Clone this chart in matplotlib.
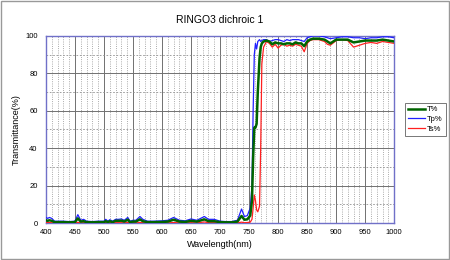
import numpy as np
import matplotlib
matplotlib.use('Agg')
import matplotlib.pyplot as plt
from matplotlib.patches import Rectangle

plt.rcParams['font.family'] = ['Liberation Sans', 'DejaVu Sans']

wl = [400,403,406,410,415,420,430,440,450,455,460,465,470,480,490,500,503,507,510,515,
      520,525,530,535,541,545,550,555,562,567,575,585,600,610,620,630,640,650,660,673,
      680,690,700,710,720,730,737,742,747,752,755,757,759,761,763,765,768,770,772,775,
      780,785,790,795,800,805,810,815,820,825,830,835,840,845,850,855,860,870,880,885,
      890,900,910,920,930,940,950,960,970,980,990,1000]

t_pct = [1.5,1.2,1.5,1.2,0.5,0.5,0.5,0.4,0.5,2.5,0.8,1,0.5,0.4,0.5,0.5,1,0.5,1,0.5,
         1.2,1.2,1.3,0.8,1.8,0.5,0.8,0.8,2,1,0.5,0.5,0.6,0.8,1.8,0.8,0.6,1.2,0.8,2,
         1,1,0.5,0.4,0.4,0.8,3.8,1.8,2,4,12,35,51,51,53,70,88,94,96,97,
         97.5,97,95.5,96.5,96,96,95.5,96,96,95.5,96.5,96,96,94.5,97,98,98.5,98.5,98,97,
         96,98,98,98,96.5,97,97.5,97.5,97.5,98,97.5,97]

tp_pct = [3,2.5,3,2.5,1,1,1,0.8,1,4.5,1.5,2,1,0.8,1,1,2,1,1.8,1,
          2,2,2.2,1.5,3,1,1.5,1.5,3.5,2,1,1,1.2,1.5,3,1.5,1.2,2.2,1.5,3.5,
          2,2,1,0.8,0.8,1.5,7.5,3.5,4,8,20,60,90,96,93,97,98,97,97.5,98,
          98,97,97.5,98,98,97.5,97,98,97.5,98,98,98,97.5,97,99,99.5,100,100,99.5,99,
          98.5,99,99.5,99.5,99,99,98.5,99,99,99.5,99.5,99]

ts_pct = [0.3,0.2,0.3,0.2,0.1,0.1,0.1,0.1,0.1,0.4,0.1,0.2,0.1,0.1,0.1,0.1,0.2,0.1,0.2,0.1,
          0.2,0.2,0.2,0.1,0.3,0.1,0.1,0.1,0.3,0.2,0.1,0.1,0.1,0.1,0.3,0.1,0.1,0.2,0.1,0.6,
          0.2,0.2,0.1,0.1,0.1,0.1,0.5,0.2,0.3,0.5,2,8,15,12,7,6,9,40,85,94,
          97,96,94,95.5,93.5,95,95.5,94.5,95,94.5,95.5,95,94.5,91.5,96,97.5,98,98,97,95.5,
          95,97.5,98,97.5,94,95,96,96.5,96,97,96.5,96]

fig = plt.figure(figsize=(4.5, 2.6), dpi=100)
fig.patches.append(Rectangle((0.002, 0.004), 0.996, 0.992, transform=fig.transFigure,
                             fill=False, edgecolor='#999999', linewidth=1.0))
ax = fig.add_axes([0.102, 0.142, 0.774, 0.72])

ax.plot(wl, ts_pct, color='#ff2020', linewidth=0.9, label='Ts%', zorder=4)
ax.plot(wl, tp_pct, color='#2020ff', linewidth=0.9, label='Tp%', zorder=5)
ax.plot(wl, t_pct, color='#006400', linewidth=1.8, label='T%', zorder=6)

ax.set_xlim(400, 1000)
ax.set_ylim(0, 100)
ax.set_xticks(np.arange(400, 1001, 50))
ax.set_xticks(np.arange(400, 1001, 10), minor=True)
ax.set_yticks(np.arange(0, 101, 20))
ax.set_yticks(np.arange(0, 101, 10), minor=True)
ax.grid(which='major', color='#707070', linewidth=0.7, linestyle='-')
ax.grid(which='minor', axis='x', color='#909090', linewidth=0.6, linestyle=':')
ax.grid(which='minor', axis='y', color='#909090', linewidth=0.6, linestyle='--', dashes=(2, 2))
ax.set_axisbelow(True)
ax.tick_params(which='both', length=0, labelsize=5.5)
ax.tick_params(axis='x', pad=4)
ax.tick_params(axis='y', pad=6)
for s in ax.spines.values():
    s.set_color('#7070c8')
    s.set_linewidth(1.0)

ax.set_title('RINGO3 dichroic 1', fontsize=7.5, pad=9)
ax.set_xlabel('Wavelength(nm)', fontsize=6.5, labelpad=3)
ax.set_ylabel('Transmittance(%)', fontsize=6.5, labelpad=3)

h, l = ax.get_legend_handles_labels()
leg = fig.legend(h[::-1], l[::-1], loc='upper left', bbox_to_anchor=(0.9, 0.604),
                 borderaxespad=0, fontsize=5.5, frameon=True, fancybox=False,
                 edgecolor='#555555', handlelength=2.2, borderpad=0.4,
                 labelspacing=0.3, handletextpad=0.3)
leg.get_frame().set_linewidth(0.7)

fig.savefig('out.png', dpi=100)
